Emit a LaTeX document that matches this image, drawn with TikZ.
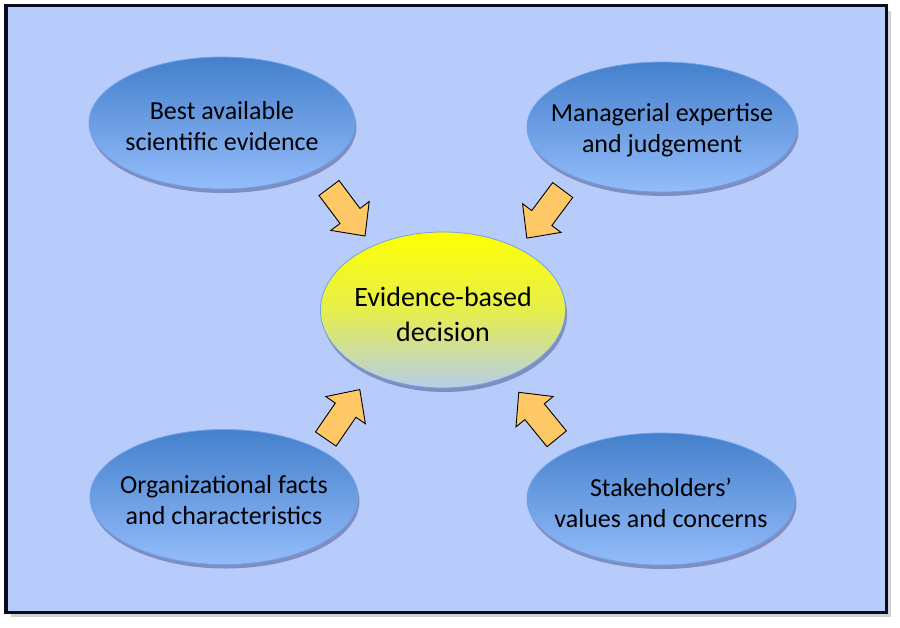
\documentclass[tikz,border=0pt]{standalone}
\usepackage{fontspec}
\setmainfont{Carlito}
\usetikzlibrary{shapes.geometric,shadows}
\definecolor{bgblue}{RGB}{184,204,252}
\definecolor{framecol}{RGB}{8,12,28}
\definecolor{ellTop}{RGB}{68,128,204}
\definecolor{ellBot}{RGB}{148,188,250}
\definecolor{ellBorder}{RGB}{112,160,236}
\definecolor{ctrTop}{RGB}{255,255,0}
\definecolor{ctrMid}{RGB}{230,238,76}
\definecolor{ctrBot}{RGB}{182,206,232}
\definecolor{arrowfill}{RGB}{255,200,102}
\tikzset{
  outerell/.style={ellipse, inner sep=0pt, draw=ellBorder, line width=0.8pt,
    top color=ellTop, bottom color=ellBot,
    drop shadow={shadow xshift=1.5pt, shadow yshift=-4pt, opacity=0.3, fill=black!80!blue}},
  centerell/.style={ellipse, inner sep=0pt, draw=ellBorder, line width=0.8pt,
    top color=ctrTop, bottom color=ctrBot, middle color=ctrMid,
    drop shadow={shadow xshift=1.5pt, shadow yshift=-4pt, opacity=0.3, fill=black!80!blue}},
  outertext/.style={align=center, inner sep=0pt, yshift=-3.5pt, font=\fontsize{26}{31}\selectfont},
  centertext/.style={align=center, inner sep=0pt, yshift=-4pt, font=\fontsize{28}{35}\selectfont},
  arrowbody/.style={fill=arrowfill, draw=black, line width=0.9pt, line join=miter},
  arrowshade/.style={fill=black!80!blue, opacity=0.25},
  blockarrow/.pic={
    \path[#1] (0,-12.5) -- (35,-12.5) -- (35,-24) -- (60,0) -- (35,24) -- (35,12.5) -- (0,12.5) -- cycle;
  }
}
\begin{document}
\begin{tikzpicture}[x=1pt,y=-1pt]
\useasboundingbox (0,0) rectangle (900,627);
% frame with shadow
\fill[black!30, opacity=0.6] (11,11) rectangle (891,617);
\draw[fill=bgblue, draw=framecol, line width=3.6pt] (6,5.5) rectangle (886.5,612.5);

% ellipses
\node[outerell, minimum width=266pt, minimum height=132pt] (tl) at (222,123) {};
\node[outerell, minimum width=270pt, minimum height=130pt] (tr) at (662,127) {};
\node[outerell, minimum width=268pt, minimum height=135pt] (bl) at (224,497) {};
\node[outerell, minimum width=268pt, minimum height=132pt] (br) at (661,499) {};
\node[centerell, minimum width=245pt, minimum height=156pt] (ctr) at (443,310) {};

% texts
\node[outertext] (tltext) at (tl.center) {Best available\\scientific evidence};
\node[outertext] (trtext) at (tr.center) {Managerial expertise\\and judgement};
\node[outertext] (bltext) at (bl.center) {Organizational facts\\and characteristics};
\node[outertext] (brtext) at (br.center) {Stakeholders’\\values and concerns};
\node[centertext] (ctrtext) at (ctr.center) {Evidence-based\\decision};

% arrow tails
\coordinate (a1) at (329,188);
\coordinate (a2) at (562.7,190);
\coordinate (a3) at (325.8,439);
\coordinate (a4) at (556.7,438.8);

\begin{scope}[shift={(2pt,-4pt)}]
\pic[rotate=-53.1] at (a1) {blockarrow=arrowshade};
\pic[rotate=-126.7] at (a2) {blockarrow=arrowshade};
\pic[rotate=55.5] at (a3) {blockarrow=arrowshade};
\pic[rotate=129.2] at (a4) {blockarrow=arrowshade};
\end{scope}
\pic[rotate=-53.1] at (a1) {blockarrow=arrowbody};
\pic[rotate=-126.7] at (a2) {blockarrow=arrowbody};
\pic[rotate=55.5] at (a3) {blockarrow=arrowbody};
\pic[rotate=129.2] at (a4) {blockarrow=arrowbody};
\end{tikzpicture}
\end{document}
